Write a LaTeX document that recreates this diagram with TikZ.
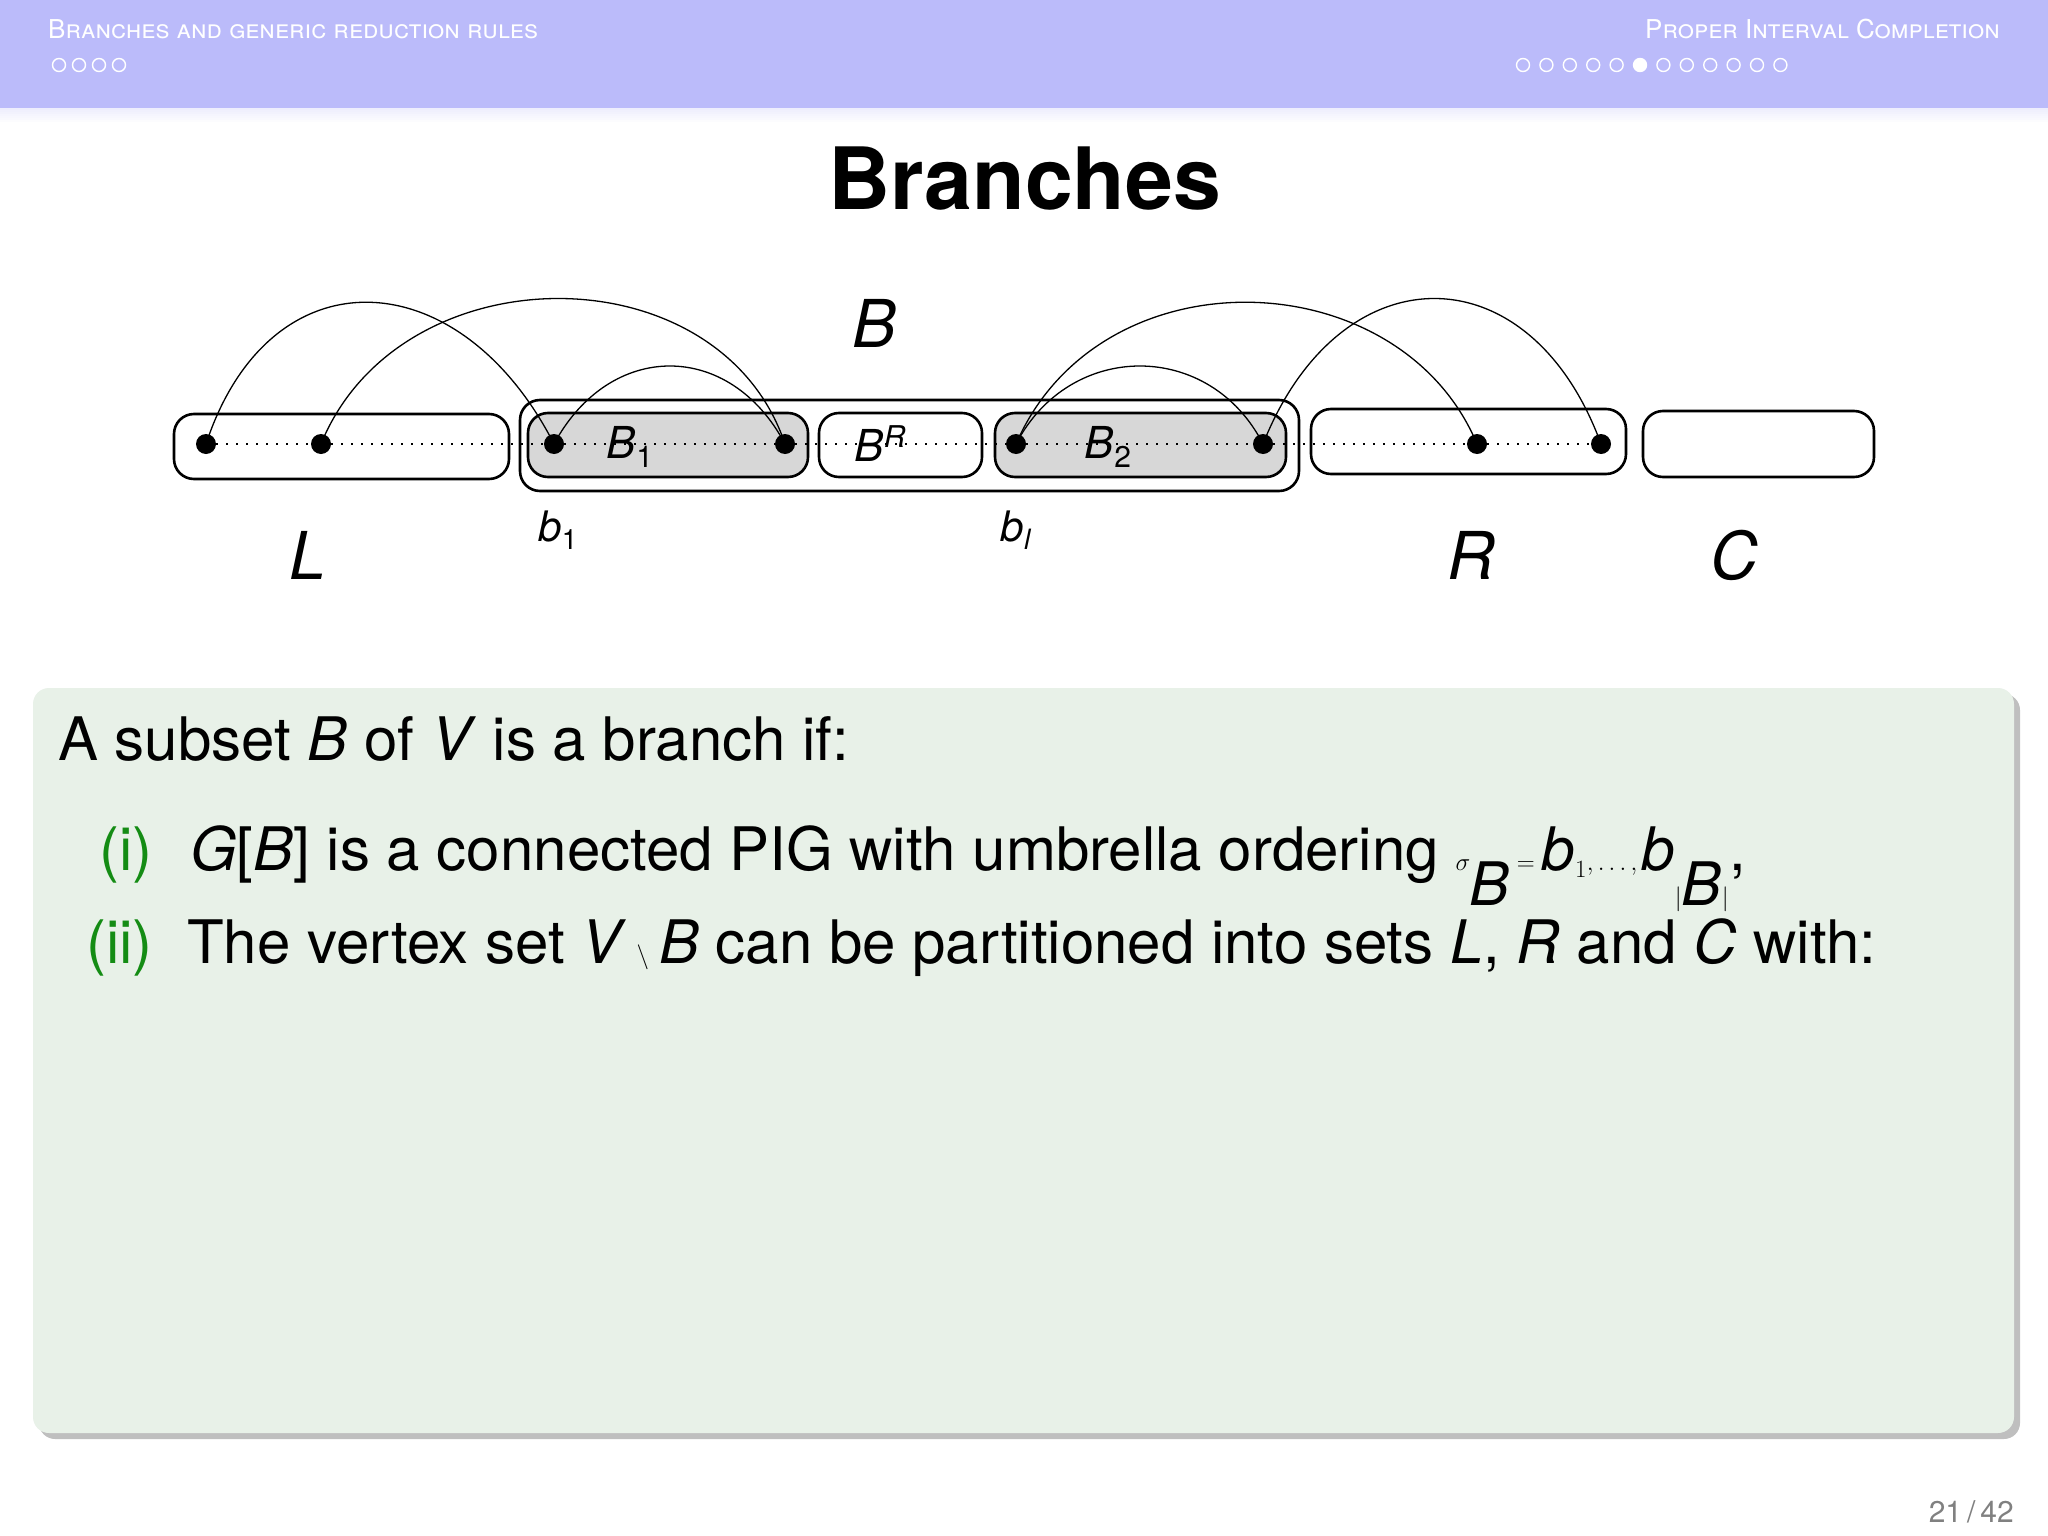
\documentclass[tikz,border=0pt]{standalone}
\usepackage{fontspec}
\setmainfont{TeX Gyre Heros}
\setsansfont{TeX Gyre Heros}
\usetikzlibrary{shadows}
\definecolor{hdr}{RGB}{187,187,250}
\definecolor{blk}{RGB}{232,241,232}
\definecolor{grn}{RGB}{20,140,20}
\definecolor{gry}{RGB}{215,215,215}
\newcommand{\fs}[1]{\fontsize{#1}{#1}\selectfont}
\tikzset{
 setbox/.style={draw,line width=2.6pt,rounded corners=20pt},
 vtx/.style={circle,fill=black,inner sep=0pt,minimum size=20pt},
 arc/.style={line width=1.3pt},
 hcirc/.style={circle,draw=white,line width=1.4pt,inner sep=0pt,minimum size=13pt},
}
\begin{document}
\begin{tikzpicture}[x=1pt,y=-1pt]
\useasboundingbox (0,0) rectangle (2048,1536);
\fill[white] (0,0) rectangle (2048,1536);
% header
\fill[hdr] (0,0) rectangle (2048,108);
\foreach \i in {0,...,6}{\fill[hdr!50,opacity=0.5-\i*0.07] (0,108+\i*2) rectangle (2048,110+\i*2);}
\node[anchor=west,text=white,inner sep=0] (ht) at (48,29) {\fs{26}\textsc{Branches and generic reduction rules}};
\foreach \k in {0,...,3}{\node[hcirc] (hl\k) at (59+\k*20,65) {};}
\node[anchor=east,text=white,inner sep=0] (hr) at (2000,29) {\fs{26}\textsc{Proper Interval Completion}};
\foreach \k in {0,...,11}{\node[hcirc] (hr\k) at (1523+\k*23.4,65) {};}
\fill[white] (hr5) circle (6.5pt);
% title
\node (title) at (1025,179) {\fs{86}\bfseries Branches};
% diagram
\node[setbox,minimum width=779pt,minimum height=91pt] (Bo) at (909.5,445.5) {};
\node[setbox,minimum width=335pt,minimum height=65pt] (Lb) at (341.5,446.5) {};
\node[setbox,fill=gry,minimum width=280pt,minimum height=64pt] (B1b) at (668,445) {};
\node[setbox,minimum width=163pt,minimum height=64pt] (BRb) at (900.5,445) {};
\node[setbox,fill=gry,minimum width=291pt,minimum height=64pt] (B2b) at (1140.5,445) {};
\node[setbox,minimum width=315pt,minimum height=65pt] (Rb) at (1468.5,441.5) {};
\node[setbox,minimum width=231pt,minimum height=66pt] (Cb) at (1758.5,444) {};
\node[vtx] (v1) at (206,444) {};
\node[vtx] (v2) at (321,444) {};
\node[vtx] (v3) at (554,444) {};
\node[vtx] (v4) at (785,444) {};
\node[vtx] (v5) at (1016,444) {};
\node[vtx] (v6) at (1263,444) {};
\node[vtx] (v7) at (1477,444) {};
\node[vtx] (v8) at (1601,444) {};
\draw[line width=2pt,dotted,dash pattern=on 2pt off 8pt] (v1) -- (v2) -- (v3) -- (v4) -- (v5) -- (v6) -- (v7) -- (v8);
\draw[arc] (v1.center) .. controls (270,250) and (460,260) .. (v3.center);
\draw[arc] (v2.center) .. controls (400,250) and (720,250) .. (v4.center);
\draw[arc] (v3.center) .. controls (610,340) and (730,340) .. (v4.center);
\draw[arc] (v5.center) .. controls (1070,340) and (1210,340) .. (v6.center);
\draw[arc] (v5.center) .. controls (1100,250) and (1400,260) .. (v7.center);
\draw[arc] (v6.center) .. controls (1340,250) and (1530,250) .. (v8.center);
\node (lB1) at (630,447) {\fs{44}\textit{B}\fs{30}\raisebox{-9pt}{1}};
\node (lBR) at (880,444) {\fs{44}\textit{B}\fs{30}\raisebox{14pt}{\textit{R}}};
\node (lB2) at (1108,447) {\fs{44}\textit{B}\fs{30}\raisebox{-9pt}{2}};
\node (lB) at (875,323) {\fs{66}\textit{B}};
\node (lL) at (308,555) {\fs{66}\textit{L}};
\node (lR) at (1471,555) {\fs{66}\textit{R}};
\node (lC) at (1734,555) {\fs{66}\textit{C}};
\node (lb1) at (558,530) {\fs{42}\textit{b}\fs{28}\raisebox{-8pt}{1}};
\node (lbl) at (1016,530) {\fs{42}\textit{b}\fs{28}\raisebox{-8pt}{\textit{l}}};
% block
\node[draw=none,fill=blk,rounded corners=16pt,minimum width=1981pt,minimum height=745pt,
 drop shadow={shadow xshift=6pt,shadow yshift=-6pt,opacity=0.5}] (blkbox) at (1023.5,1060.5) {};
\node[anchor=base west,inner sep=0] (t0) at (58,760) {\fs{60}A subset \textit{B} of \textit{V} is a branch if:};
\node[anchor=base east,inner sep=0,text=grn] (i1) at (153,870) {\fs{60}(i)};
\node[anchor=base west,inner sep=0] (t1) at (190,870) {\fs{60}\textit{G}[\textit{B}] is a connected PIG with umbrella ordering $\sigma_{\textit{B}} = \textit{b}_1, \ldots, \textit{b}_{|\textit{B}|}$,};
\node[anchor=base east,inner sep=0,text=grn] (i2) at (153,963) {\fs{60}(ii)};
\node[anchor=base west,inner sep=0] (t2) at (187,963) {\fs{60}The vertex set \textit{V}\,$\setminus$\,\textit{B} can be partitioned into sets \textit{L}, \textit{R} and \textit{C} with:};
% page number
\node[anchor=east,text=gray,inner sep=0] (pg) at (2014,1512) {\fs{30}21\,/\,42};
\end{tikzpicture}
\end{document}
